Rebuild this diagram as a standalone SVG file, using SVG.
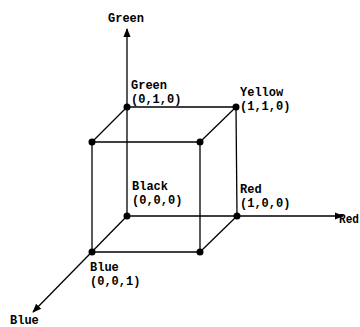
<svg xmlns="http://www.w3.org/2000/svg" width="360" height="327" viewBox="0 0 360 327">
<style>
.l{stroke:#000;stroke-width:1.3;fill:none}
.d{fill:#000}
text{font-family:"Liberation Mono","Courier New",monospace;font-size:12px;font-weight:bold;fill:#000}
</style>
<defs>
<marker id="ah" viewBox="0 0 10 10" refX="9" refY="5" markerWidth="9" markerHeight="9" markerUnits="userSpaceOnUse" orient="auto">
<path d="M0,1 L10,5 L0,9 Z" fill="#000"/>
</marker>
</defs>
<rect width="360" height="327" fill="#fff"/>
<g id="connectors">
<line class="l" x1="127" y1="216" x2="127" y2="29" marker-end="url(#ah)"/>
<line class="l" x1="127" y1="216" x2="343" y2="216" marker-end="url(#ah)"/>
<line class="l" x1="127" y1="216" x2="33" y2="312" marker-end="url(#ah)"/>
<line class="l" x1="127" y1="107" x2="236" y2="107"/>
<line class="l" x1="236" y1="107" x2="237" y2="216"/>
<line class="l" x1="92" y1="142" x2="200" y2="142"/>
<line class="l" x1="92" y1="142" x2="92" y2="252"/>
<line class="l" x1="200" y1="142" x2="200" y2="252"/>
<line class="l" x1="92" y1="252" x2="200" y2="252"/>
<line class="l" x1="127" y1="107" x2="92" y2="142"/>
<line class="l" x1="236" y1="107" x2="200" y2="142"/>
<line class="l" x1="237" y1="216" x2="200" y2="252"/>
</g>
<g id="axis-labels">
<text x="108" y="22">Green</text>
<text x="339" y="223" textLength="20" lengthAdjust="spacingAndGlyphs">Red</text>
<text x="10" y="324">Blue</text>
</g>
<g id="node-green"><circle class="d" cx="127" cy="107" r="3.5"/><text x="131" y="89">Green</text><text x="131" y="103">(0,1,0)</text></g>
<g id="node-yellow"><circle class="d" cx="236" cy="107" r="3.5"/><text x="240" y="96">Yellow</text><text x="240" y="110">(1,1,0)</text></g>
<g id="node-ftl"><circle class="d" cx="92" cy="142" r="3.5"/></g>
<g id="node-ftr"><circle class="d" cx="200" cy="142" r="3.5"/></g>
<g id="node-black"><circle class="d" cx="127" cy="216" r="3.5"/><text x="132" y="190">Black</text><text x="132" y="204">(0,0,0)</text></g>
<g id="node-red"><circle class="d" cx="237" cy="216" r="3.5"/><text x="240" y="193">Red</text><text x="240" y="207">(1,0,0)</text></g>
<g id="node-blue"><circle class="d" cx="92" cy="252" r="3.5"/><text x="90" y="271">Blue</text><text x="90" y="285">(0,0,1)</text></g>
<g id="node-fbr"><circle class="d" cx="200" cy="252" r="3.5"/></g>
</svg>
